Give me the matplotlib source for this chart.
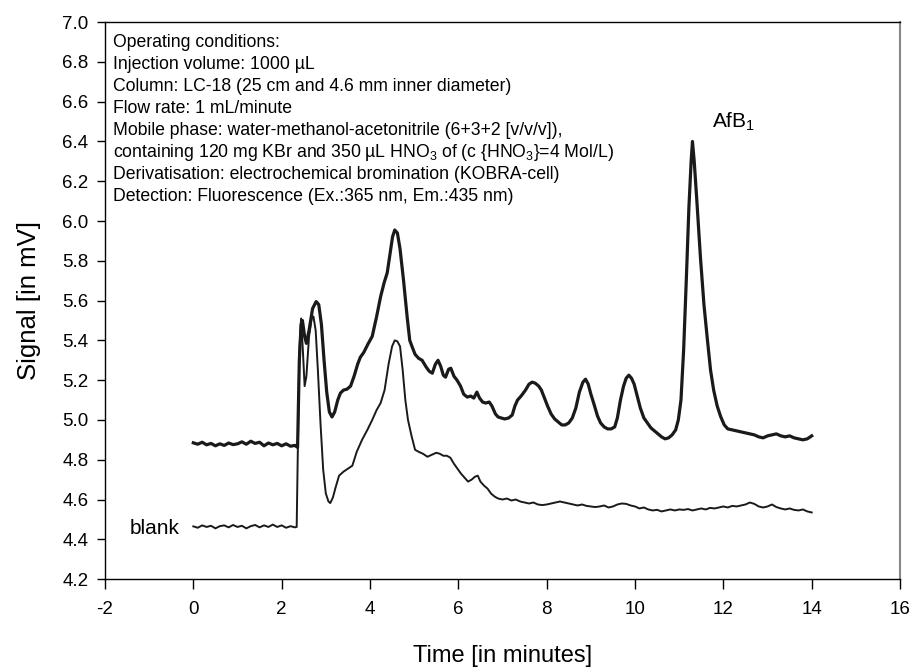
import matplotlib
matplotlib.use("Agg")
import matplotlib.pyplot as plt

plt.rcParams['font.family'] = ['Liberation Sans', 'DejaVu Sans']
plt.rcParams['mathtext.fontset'] = 'custom'
plt.rcParams['mathtext.rm'] = 'Liberation Sans'
plt.rcParams['mathtext.it'] = 'Liberation Sans'

# sample chromatogram (time in min, signal in mV)
sample_t = [0.0, 0.1, 0.2, 0.3, 0.4, 0.5, 0.6, 0.7, 0.8, 0.9, 1.0, 1.1, 1.2, 1.3, 1.4,
            1.5, 1.6, 1.7, 1.8, 1.9, 2.0, 2.1, 2.2, 2.3, 2.36, 2.40, 2.44, 2.47, 2.52,
            2.56, 2.62, 2.70, 2.78, 2.84, 2.90, 2.96, 3.02, 3.08, 3.14, 3.20, 3.27,
            3.33, 3.40, 3.48, 3.56, 3.64, 3.72, 3.78, 3.86, 3.95, 4.05, 4.15, 4.24,
            4.32, 4.39, 4.45, 4.51, 4.56, 4.62, 4.68, 4.76, 4.84, 4.90, 4.95, 5.02,
            5.10, 5.18, 5.26, 5.34, 5.41, 5.48, 5.54, 5.60, 5.66, 5.71, 5.78, 5.83,
            5.90, 5.97, 6.05, 6.12, 6.20, 6.28, 6.35, 6.42, 6.48, 6.55, 6.62, 6.70,
            6.76, 6.84, 6.90, 6.97, 7.05, 7.14, 7.22, 7.28, 7.34, 7.42, 7.52, 7.60,
            7.67, 7.74, 7.82, 7.88, 7.95, 8.02, 8.10, 8.18, 8.26, 8.34, 8.42, 8.50,
            8.58, 8.66, 8.74, 8.82, 8.88, 8.94, 9.00, 9.07, 9.15, 9.22, 9.30, 9.38,
            9.46, 9.54, 9.60, 9.67, 9.74, 9.80, 9.86, 9.92, 9.98, 10.05, 10.12, 10.20,
            10.28, 10.36, 10.44, 10.52, 10.60, 10.68, 10.76, 10.84, 10.92, 10.98,
            11.04, 11.10, 11.16, 11.22, 11.27, 11.30, 11.34, 11.40, 11.48, 11.56,
            11.64, 11.71, 11.78, 11.86, 11.94, 12.02, 12.10, 12.20, 12.30, 12.40,
            12.50, 12.60, 12.70, 12.80, 12.90, 13.00, 13.10, 13.20, 13.30, 13.40,
            13.50, 13.60, 13.70, 13.80, 13.90, 14.00]
sample_v = [4.885, 4.878, 4.888, 4.875, 4.882, 4.870, 4.880, 4.872, 4.884, 4.876, 4.880,
            4.890, 4.878, 4.893, 4.882, 4.888, 4.870, 4.884, 4.875, 4.882, 4.870, 4.880,
            4.868, 4.872, 4.862, 5.30, 5.48, 5.50, 5.42, 5.385, 5.45, 5.56, 5.595, 5.58,
            5.48, 5.30, 5.14, 5.04, 5.015, 5.04, 5.10, 5.135, 5.15, 5.155, 5.17, 5.22,
            5.28, 5.315, 5.34, 5.38, 5.42, 5.52, 5.62, 5.69, 5.74, 5.83, 5.92, 5.955,
            5.94, 5.86, 5.70, 5.52, 5.40, 5.37, 5.33, 5.31, 5.30, 5.27, 5.245, 5.235,
            5.28, 5.30, 5.27, 5.225, 5.215, 5.255, 5.26, 5.22, 5.20, 5.17, 5.13, 5.115,
            5.12, 5.11, 5.14, 5.11, 5.09, 5.085, 5.09, 5.07, 5.03, 5.015, 5.01, 5.005,
            5.01, 5.025, 5.07, 5.10, 5.12, 5.15, 5.18, 5.19, 5.185, 5.17, 5.15, 5.11,
            5.07, 5.03, 5.005, 4.99, 4.975, 4.975, 4.985, 5.01, 5.06, 5.14, 5.19, 5.205,
            5.18, 5.13, 5.08, 5.02, 4.985, 4.965, 4.955, 4.955, 4.965, 5.01, 5.10, 5.17,
            5.21, 5.225, 5.21, 5.18, 5.12, 5.06, 5.01, 4.985, 4.96, 4.945, 4.93, 4.915,
            4.905, 4.91, 4.925, 4.95, 5.00, 5.10, 5.35, 5.70, 6.07, 6.30, 6.40, 6.30,
            6.10, 5.82, 5.58, 5.40, 5.25, 5.15, 5.07, 5.016, 4.975, 4.955, 4.95, 4.945,
            4.94, 4.935, 4.93, 4.925, 4.915, 4.91, 4.92, 4.925, 4.93, 4.92, 4.915, 4.92,
            4.91, 4.905, 4.90, 4.905, 4.92]

# blank chromatogram
blank_t = [0.0, 0.1, 0.2, 0.3, 0.4, 0.5, 0.6, 0.7, 0.8, 0.9, 1.0, 1.1, 1.2, 1.3, 1.4,
           1.5, 1.6, 1.7, 1.8, 1.9, 2.0, 2.1, 2.2, 2.3, 2.34, 2.37, 2.40, 2.44, 2.48,
           2.52, 2.56, 2.62, 2.68, 2.72, 2.77, 2.82, 2.88, 2.94, 3.00, 3.06, 3.10,
           3.16, 3.22, 3.30, 3.40, 3.50, 3.60, 3.70, 3.82, 3.94, 4.05, 4.15, 4.24,
           4.33, 4.42, 4.50, 4.56, 4.62, 4.68, 4.74, 4.80, 4.86, 4.94, 5.02, 5.10,
           5.20, 5.30, 5.40, 5.50, 5.58, 5.66, 5.74, 5.82, 5.90, 5.98, 6.06, 6.14,
           6.22, 6.30, 6.38, 6.44, 6.50, 6.58, 6.66, 6.74, 6.82, 6.90, 7.00, 7.10,
           7.20, 7.30, 7.40, 7.50, 7.60, 7.70, 7.80, 7.90, 8.00, 8.10, 8.20, 8.30,
           8.40, 8.50, 8.60, 8.70, 8.80, 8.90, 9.00, 9.10, 9.20, 9.30, 9.40, 9.50,
           9.60, 9.70, 9.80, 9.90, 10.00, 10.10, 10.20, 10.30, 10.40, 10.50, 10.60,
           10.70, 10.80, 10.90, 11.00, 11.10, 11.20, 11.30, 11.40, 11.50, 11.60,
           11.70, 11.80, 11.90, 12.00, 12.10, 12.20, 12.30, 12.40, 12.50, 12.60,
           12.70, 12.80, 12.90, 13.00, 13.10, 13.20, 13.30, 13.40, 13.50, 13.60,
           13.70, 13.80, 13.90, 14.00]
blank_v = [4.465, 4.458, 4.470, 4.462, 4.468, 4.455, 4.466, 4.470, 4.460, 4.472, 4.462,
           4.468, 4.455, 4.466, 4.472, 4.460, 4.470, 4.462, 4.474, 4.462, 4.470, 4.458,
           4.466, 4.460, 4.462, 4.90, 5.35, 5.51, 5.35, 5.17, 5.22, 5.42, 5.51, 5.52,
           5.45, 5.25, 4.98, 4.75, 4.63, 4.59, 4.582, 4.61, 4.66, 4.72, 4.74, 4.755,
           4.77, 4.84, 4.90, 4.95, 5.00, 5.05, 5.085, 5.15, 5.28, 5.37, 5.40, 5.395,
           5.37, 5.25, 5.10, 5.00, 4.92, 4.85, 4.84, 4.83, 4.815, 4.825, 4.835, 4.83,
           4.82, 4.82, 4.81, 4.78, 4.755, 4.73, 4.71, 4.69, 4.70, 4.715, 4.72, 4.69,
           4.67, 4.655, 4.63, 4.615, 4.605, 4.60, 4.605, 4.595, 4.60, 4.59, 4.585,
           4.58, 4.585, 4.575, 4.572, 4.575, 4.58, 4.585, 4.59, 4.585, 4.58, 4.575,
           4.57, 4.575, 4.568, 4.565, 4.562, 4.565, 4.57, 4.56, 4.565, 4.575, 4.58,
           4.578, 4.57, 4.565, 4.555, 4.56, 4.55, 4.545, 4.548, 4.54, 4.545, 4.55,
           4.545, 4.55, 4.548, 4.552, 4.545, 4.55, 4.555, 4.55, 4.558, 4.555, 4.56,
           4.565, 4.56, 4.568, 4.565, 4.57, 4.575, 4.585, 4.578, 4.565, 4.56, 4.565,
           4.575, 4.562, 4.555, 4.55, 4.555, 4.548, 4.545, 4.55, 4.54, 4.535]

x_ticks = [-2, 0, 2, 4, 6, 8, 10, 12, 14, 16]
y_ticks = [4.2, 4.4, 4.6, 4.8, 5.0, 5.2, 5.4, 5.6, 5.8, 6.0, 6.2, 6.4, 6.6, 6.8, 7.0]

conditions = [
    "Operating conditions:",
    "Injection volume: 1000 µL",
    "Column: LC-18 (25 cm and 4.6 mm inner diameter)",
    "Flow rate: 1 mL/minute",
    "Mobile phase: water-methanol-acetonitrile (6+3+2 [v/v/v]),",
    "containing 120 mg KBr and 350 µL HNO$_3$ of (c {HNO$_3$}=4 Mol/L)",
    "Derivatisation: electrochemical bromination (KOBRA-cell)",
    "Detection: Fluorescence (Ex.:365 nm, Em.:435 nm)",
]

fig = plt.figure(figsize=(9.16, 6.71), dpi=100)
ax = fig.add_axes([0.1146, 0.137, 0.868, 0.830])

ax.plot(sample_t, sample_v, color='#1a1a1a', lw=2.3, solid_joinstyle='round')
ax.plot(blank_t, blank_v, color='#1a1a1a', lw=1.4, solid_joinstyle='round')

ax.set_xlim(-2, 16)
ax.set_ylim(4.2, 7.0)
ax.set_xticks(x_ticks)
ax.set_xticklabels([str(v) for v in x_ticks])
ax.set_yticks(y_ticks)
ax.set_yticklabels([f"{v:.1f}" for v in y_ticks])
ax.tick_params(axis='both', direction='out', labelsize=13.5, width=1, color='black')
ax.tick_params(axis='x', length=7, pad=9)
ax.tick_params(axis='y', length=6, pad=6)

for side in ['left', 'bottom', 'top']:
    ax.spines[side].set_color('black')
    ax.spines[side].set_linewidth(1.0)
ax.spines['right'].set_color('#888888')
ax.spines['right'].set_linewidth(1.5)

ax.set_xlabel("Time [in minutes]", fontsize=17)
ax.set_ylabel("Signal [in mV]", fontsize=18.5)
ax.xaxis.set_label_coords(0.5, -0.118)
ax.yaxis.set_label_coords(-0.080, 0.5)

for i, line in enumerate(conditions):
    ax.text(0.010, 0.963 - i * 0.0395, line, transform=ax.transAxes,
            fontsize=12.7, va='center', ha='left')

ax.text(-1.45, 4.455, "blank", fontsize=15, va='center', ha='left')
ax.text(11.75, 6.50, "AfB$_1$", fontsize=15, va='center', ha='left')

fig.savefig("out.png", dpi=100)
